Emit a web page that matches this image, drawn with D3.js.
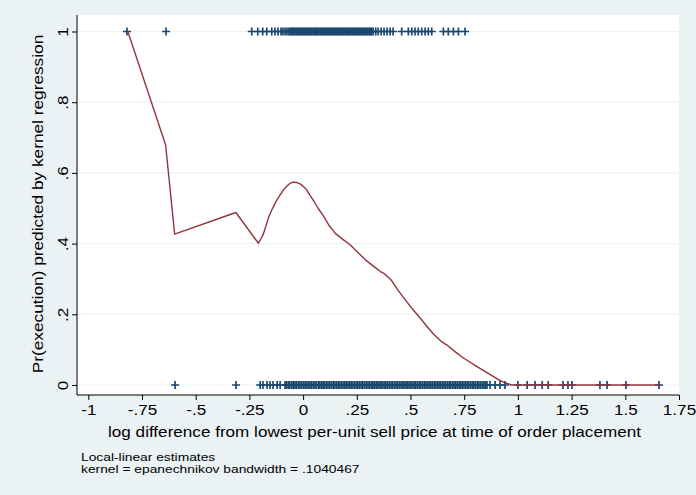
<!DOCTYPE html>
<html>
<head>
<meta charset="utf-8">
<script src="https://cdn.jsdelivr.net/npm/d3@7"></script>
<style>
  html, body { margin: 0; padding: 0; background: #eaf2f3; }
  svg { display: block; }
  text { font-family: "Liberation Sans", Arial, sans-serif; fill: #000; }
</style>
</head>
<body>
<svg id="chart" width="696" height="495"></svg>
<script>
// Observed outcomes: orders executed (y = 1) and not executed (y = 0)
const executedX = [
  -0.82, -0.638,
  -0.239, -0.211, -0.188, -0.169,
  -0.146, -0.131, -0.117, -0.103, -0.094, -0.084, -0.075, -0.066,
  -0.060, -0.054, -0.049, -0.043, -0.037, -0.031, -0.026, -0.021, -0.015, -0.009,
  -0.004, 0.002, 0.007, 0.013, 0.018, 0.024, 0.029, 0.035, 0.040, 0.046, 0.051,
  0.057, 0.062, 0.068, 0.073, 0.079, 0.085, 0.090, 0.096, 0.101, 0.107, 0.112,
  0.118, 0.124, 0.129, 0.135, 0.140, 0.146, 0.151, 0.157, 0.163, 0.168, 0.174,
  0.179, 0.185, 0.190, 0.196, 0.202, 0.207, 0.213, 0.218, 0.224, 0.229, 0.235,
  0.241, 0.246, 0.252, 0.257, 0.263, 0.268, 0.274, 0.280, 0.285, 0.291, 0.296,
  0.302, 0.308, 0.313, 0.319, 0.326,
  0.338, 0.349, 0.363, 0.377, 0.391, 0.405, 0.419,
  0.459, 0.490, 0.506, 0.521, 0.536, 0.552, 0.568, 0.583, 0.599,
  0.653, 0.676, 0.700, 0.723, 0.754
];
const notExecutedX = [
  -0.596, -0.312,
  -0.200, -0.187, -0.168, -0.154, -0.140, -0.121, -0.107,
  -0.084, -0.077, -0.069, -0.062, -0.053, -0.046, -0.038, -0.031, -0.022, -0.015,
  -0.007, 0.001, 0.009, 0.016, 0.024, 0.032, 0.039, 0.047, 0.055, 0.062, 0.071,
  0.078, 0.086, 0.093, 0.101, 0.109, 0.116, 0.124, 0.132, 0.140, 0.147, 0.155,
  0.163, 0.170, 0.178, 0.186, 0.194, 0.201, 0.209, 0.217, 0.224, 0.232, 0.240,
  0.248, 0.255, 0.263, 0.271, 0.278, 0.286, 0.294, 0.302, 0.309, 0.317, 0.325,
  0.332, 0.340, 0.348, 0.356, 0.363, 0.371, 0.379, 0.386, 0.394, 0.402, 0.410,
  0.417, 0.425, 0.433, 0.440, 0.448, 0.456, 0.464, 0.471, 0.479, 0.487, 0.494,
  0.502, 0.510, 0.518, 0.525, 0.533, 0.541, 0.548, 0.556, 0.564, 0.572, 0.579,
  0.587, 0.595, 0.602, 0.610, 0.618, 0.626, 0.633, 0.641, 0.649, 0.656, 0.664,
  0.672, 0.680, 0.687, 0.695, 0.703, 0.710, 0.718, 0.726, 0.734, 0.741, 0.749,
  0.757, 0.764, 0.772, 0.780, 0.788, 0.795, 0.803, 0.811, 0.818, 0.826, 0.834,
  0.842, 0.849, 0.856,
  0.870, 0.894, 0.917, 0.940, 1.000, 1.043, 1.080, 1.113, 1.141,
  1.210, 1.233, 1.252, 1.382, 1.415, 1.503, 1.657
];

// Local-linear kernel regression fit, evaluated along x
const fitX = [-0.816, -0.64, -0.598, -0.313, -0.208, -0.185, -0.16, -0.146, -0.125,
  -0.107, -0.09, -0.075, -0.06, -0.045, -0.03, -0.014, 0.0, 0.017, 0.033, 0.05, 0.07,
  0.095, 0.12, 0.15, 0.185, 0.22, 0.255, 0.29, 0.33, 0.36, 0.376, 0.41, 0.44, 0.47,
  0.505, 0.54, 0.575, 0.61, 0.64, 0.67, 0.71, 0.75, 0.81, 0.875, 0.91, 0.937, 0.97,
  1.0, 1.25, 1.657];
const fitY = [1.0, 0.679, 0.427, 0.488, 0.401, 0.427, 0.475, 0.495, 0.52,
  0.538, 0.553, 0.563, 0.571, 0.574, 0.573, 0.569, 0.562, 0.552, 0.536, 0.52, 0.5,
  0.478, 0.452, 0.429, 0.412, 0.396, 0.375, 0.354, 0.335, 0.321, 0.316, 0.297, 0.27, 0.245,
  0.218, 0.193, 0.167, 0.142, 0.125, 0.113, 0.093, 0.075, 0.052, 0.028, 0.015, 0.007, 0.0,
  0.0, 0.0, 0.0];

const xTicks = [-1, -0.75, -0.5, -0.25, 0, 0.25, 0.5, 0.75, 1, 1.25, 1.5, 1.75];
const xTickLabels = ["-1", "-.75", "-.5", "-.25", "0", ".25", ".5", ".75", "1", "1.25", "1.5", "1.75"];
const yTicks = [0, 0.2, 0.4, 0.6, 0.8, 1];
const yTickLabels = ["0", ".2", ".4", ".6", ".8", "1"];

const xTitle = "log difference from lowest per-unit sell price at time of order placement";
const yTitle = "Pr(execution) predicted by kernel regression";
const notes = ["Local-linear estimates", "kernel = epanechnikov bandwidth = .1040467"];

const navy = "#1a476f", maroon = "#90353b", grid = "#eaf2f3";
const FONT = "Liberation Sans, Arial, sans-serif";

const svg = d3.select("#chart");
const plot = { left: 77, right: 679, top: 15, bottom: 395 };

const x = d3.scaleLinear().domain([-1, 1.75]).range([88.3, 679]);
const y = d3.scaleLinear().domain([0, 1]).range([385, 31.5]);

// widen glyphs along the text direction
function stretch(sel, factor) {
  sel.each(function () {
    const w = this.getComputedTextLength();
    d3.select(this).attr("textLength", w * factor).attr("lengthAdjust", "spacingAndGlyphs");
  });
}

// background and plot region
svg.append("rect").attr("width", 696).attr("height", 495).attr("fill", "#eaf2f3");
svg.append("rect").attr("x", plot.left).attr("y", plot.top)
  .attr("width", plot.right - plot.left).attr("height", plot.bottom - plot.top)
  .attr("fill", "#fff");

// horizontal grid lines
svg.append("g").selectAll("line").data(yTicks).join("line")
  .attr("x1", plot.left).attr("x2", plot.right)
  .attr("y1", d => y(d)).attr("y2", d => y(d))
  .attr("stroke", grid).attr("stroke-width", 1.2);

// y axis (labels rotated, reading upward)
const yAxis = svg.append("g").attr("transform", `translate(${plot.left},0)`)
  .call(d3.axisLeft(y).tickValues(yTicks).tickSize(5).tickPadding(4)
    .tickFormat((d, i) => yTickLabels[i]));
yAxis.select(".domain").attr("d", `M0,${plot.top}V${plot.bottom}`).attr("stroke", "#000");
yAxis.selectAll(".tick line").attr("stroke", "#000");
yAxis.selectAll(".tick text")
  .attr("x", null).attr("dy", null)
  .attr("transform", "translate(-9,0) rotate(-90)")
  .attr("text-anchor", "middle").attr("font-size", 15).style("font-family", FONT)
  .call(stretch, 1.14);

// x axis
const xAxis = svg.append("g").attr("transform", `translate(0,${plot.bottom})`)
  .call(d3.axisBottom(x).tickValues(xTicks).tickSize(5).tickPadding(4)
    .tickFormat((d, i) => xTickLabels[i]));
xAxis.select(".domain").attr("d", `M${plot.left},0H${plot.right}`).attr("stroke", "#000");
xAxis.selectAll(".tick line").attr("stroke", "#000");
xAxis.selectAll(".tick text").attr("font-size", 15).style("font-family", FONT)
  .call(stretch, 1.14);

// axis titles
svg.append("text").attr("x", 374.5).attr("y", 437).attr("text-anchor", "middle")
  .attr("font-size", 15).text(xTitle).call(stretch, 1.14);
svg.append("text").attr("transform", "translate(43,204) rotate(-90)")
  .attr("text-anchor", "middle").attr("font-size", 15).text(yTitle).call(stretch, 1.15);

// observed outcomes as plus markers
const plus = "M-4,0H4M0,-4V4";
const markers = svg.append("g").attr("stroke", navy).attr("stroke-width", 1.7).attr("fill", "none");
markers.selectAll(".top").data(executedX).join("path").attr("class", "top")
  .attr("transform", d => `translate(${x(d)},${y(1)})`).attr("d", plus);
markers.selectAll(".bot").data(notExecutedX).join("path").attr("class", "bot")
  .attr("transform", d => `translate(${x(d)},${y(0)})`).attr("d", plus);

// fitted curve
const fit = fitX.map((d, i) => [d, fitY[i]]);
svg.append("path").datum(fit)
  .attr("d", d3.line().x(d => x(d[0])).y(d => y(d[1])))
  .attr("fill", "none").attr("stroke", maroon).attr("stroke-width", 1.4)
  .attr("stroke-linejoin", "round");

// notes
svg.append("g").selectAll("text").data(notes).join("text")
  .attr("x", 81).attr("y", (d, i) => 460.5 + i * 12.7)
  .attr("font-size", 11.5).text(d => d)
  .call(stretch, 1.2);
</script>
</body>
</html>
